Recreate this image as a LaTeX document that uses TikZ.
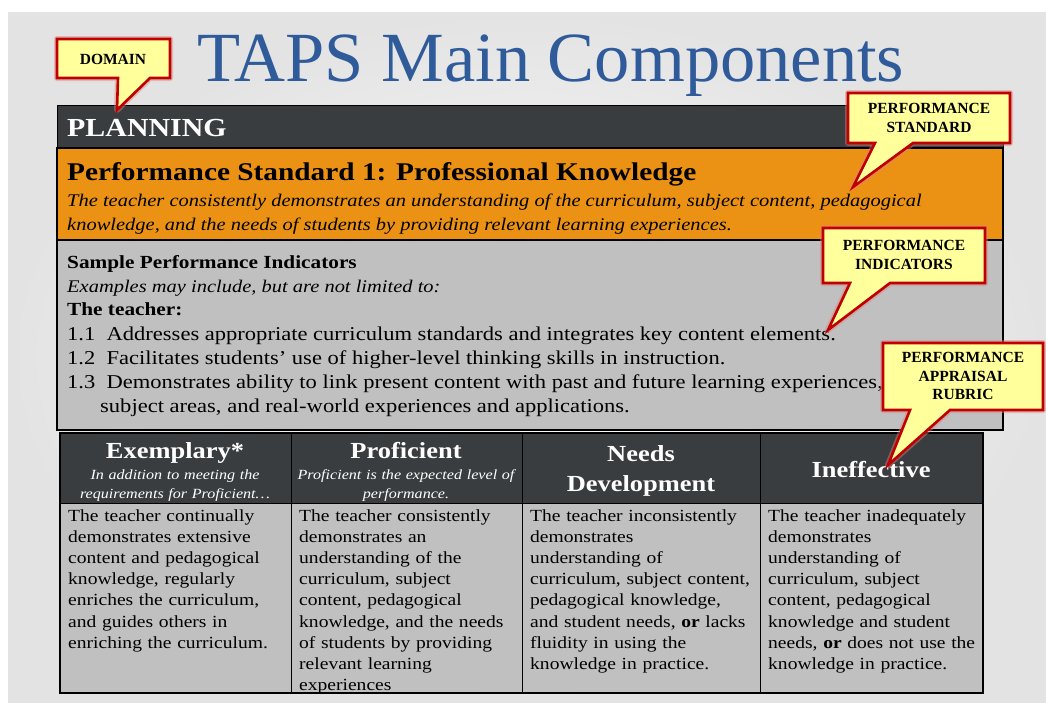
\documentclass[tikz,border=0pt]{standalone}
\usepackage{fontspec}
\setmainfont{Liberation Serif}
\newfontfamily\pal[FakeStretch=1.15]{Liberation Serif}
\definecolor{titleblue}{HTML}{2F5B9B}
\definecolor{darkbar}{HTML}{3A3D40}
\definecolor{orangebox}{HTML}{EB9214}
\definecolor{graybox}{HTML}{C0C0C0}
\definecolor{calloutfill}{HTML}{FFFF9C}
\definecolor{calloutred}{HTML}{C00000}
\hyphenpenalty=10000
\begin{document}
\begin{tikzpicture}[x=1pt,y=-1pt,
  txt/.style={anchor=base west, inner sep=0pt, font=\pal\fontsize{19.6}{24}\selectfont},
  cell/.style={anchor=base west, inner sep=0pt, text width=300pt, align=left, font=\pal\fontsize{17}{21.2}\selectfont},
  headbig/.style={anchor=base, inner sep=0pt, text width=228pt, text=white, font=\pal\bfseries\fontsize{23}{30.5}\selectfont, align=center},
  headsmall/.style={anchor=base, inner sep=0pt, text width=228pt, text=white, font=\pal\itshape\fontsize{14}{19}\selectfont, align=center},
  calloutglow/.style={draw=calloutred!50, line width=6pt, opacity=0.45, line join=round},
  calloutbox/.style={fill=calloutfill, draw=calloutred, line width=2.6pt, line join=miter},
  callouttext/.style={inner sep=0pt, align=center, font=\bfseries\fontsize{15.5}{18.5}\selectfont}
]
\useasboundingbox (0,0) rectangle (1046,702);
\fill[white] (0,0) rectangle (1046,702);
\shade[inner color=white, outer color=black!11] (8,12) rectangle (1046,702);

% title
\node[anchor=base west, inner sep=0pt, text=titleblue, font=\fontsize{70.5}{80}\selectfont] (title) at (197,81) {TAPS Main Components};

% domain bar
\fill[darkbar] (57,105) rectangle (1003,148);
\draw[black, line width=1pt] (57,105) rectangle (1003,148);
\node[txt, text=white, font=\pal\bfseries\fontsize{26}{30}\selectfont] (planning) at (67,136) {PLANNING};

% performance standard
\fill[orangebox] (57,148) rectangle (1003,240);
\draw[black, line width=1.2pt] (57,148) rectangle (1003,240);
\node[txt, font=\pal\bfseries\fontsize{25.5}{30}\selectfont] (ps1) at (67,180) {Performance Standard 1: Professional Knowledge};
\node[txt, font=\pal\itshape\fontsize{17.8}{24}\selectfont] (ps1a) at (67,206) {The teacher consistently demonstrates an understanding of the curriculum, subject content, pedagogical};
\node[txt, font=\pal\itshape\fontsize{17.8}{24}\selectfont] (ps1b) at (67,230) {knowledge, and the needs of students by providing relevant learning experiences.};

% indicators
\fill[graybox] (57,240) rectangle (1003,430);
\draw[black, line width=1.2pt] (57,240) rectangle (1003,430);
\node[txt, font=\pal\bfseries\fontsize{18.5}{24}\selectfont] (spi) at (67,268) {Sample Performance Indicators};
\node[txt, font=\pal\itshape\fontsize{17.8}{24}\selectfont] (ex) at (67,292) {Examples may include, but are not limited to:};
\node[txt, font=\pal\bfseries\fontsize{18.5}{24}\selectfont] (tt) at (67,315) {The teacher:};
\node[txt] (i11) at (67,340) {1.1\ \ Addresses appropriate curriculum standards and integrates key content elements.};
\node[txt] (i12) at (67,364) {1.2\ \ Facilitates students’ use of higher-level thinking skills in instruction.};
\node[txt] (i13) at (67,388) {1.3\ \ Demonstrates ability to link present content with past and future learning experiences,};
\node[txt] (i13b) at (100,412) {subject areas, and real-world experiences and applications.};

% rubric table
\fill[darkbar] (60,433) rectangle (983,503);
\fill[graybox] (60,503) rectangle (983,693);
\draw[black, line width=1pt] (60,503) -- (983,503);
\foreach \cx in {291,522,760} \draw[black, line width=1pt] (\cx,433) -- (\cx,693);
\draw[black, line width=2pt] (60,433) rectangle (983,693);

\node[headbig] (hex) at (175,458) {Exemplary*};
\node[headsmall] (hexa) at (175,479) {In addition to meeting the\\requirements for Proficient…};
\node[headbig] (hpr) at (406,458) {Proficient};
\node[headsmall] (hpra) at (406,479) {Proficient is the expected level of\\performance.};
\node[headbig] (hnd) at (641,461) {Needs\\Development};
\node[headbig] (hin) at (871,477) {Ineffective};

\node[cell] (c1) at (68,521) {The teacher continually\\demonstrates extensive\\content and pedagogical\\knowledge, regularly\\enriches the curriculum,\\and guides others in\\enriching the curriculum.};
\node[cell] (c2) at (299,521) {The teacher consistently\\demonstrates an\\understanding of the\\curriculum, subject\\content, pedagogical\\knowledge, and the needs\\of students by providing\\relevant learning\\experiences};
\node[cell] (c3) at (530,521) {The teacher inconsistently\\demonstrates\\understanding of\\curriculum, subject content,\\pedagogical knowledge,\\and student needs, \textbf{or} lacks\\fluidity in using the\\knowledge in practice.};
\node[cell] (c4) at (768,521) {The teacher inadequately\\demonstrates\\understanding of\\curriculum, subject\\content, pedagogical\\knowledge and student\\needs, \textbf{or} does not use the\\knowledge in practice.};

% callouts
\foreach \st in {calloutglow, calloutbox}{
  \path[\st] (57,39) -- (170,39) -- (170,78) -- (150,78) -- (117,110) -- (118,78) -- (57,78) -- cycle;
  \path[\st] (848,93) -- (1010,93) -- (1010,143) -- (913,143) -- (853,187) -- (875,143) -- (848,143) -- cycle;
  \path[\st] (823,228) -- (985,228) -- (985,283) -- (890,283) -- (828,330) -- (850,283) -- (823,283) -- cycle;
  \path[\st] (883,343) -- (1043,343) -- (1043,410) -- (950,410) -- (888,465) -- (910,410) -- (883,410) -- cycle;
}
\node[callouttext] (cdom) at (113,59) {DOMAIN};
\node[callouttext] (cps) at (929,118) {PERFORMANCE\\STANDARD};
\node[callouttext] (cpi) at (904,255) {PERFORMANCE\\INDICATORS};
\node[callouttext] (cpr) at (963,376) {PERFORMANCE\\APPRAISAL\\RUBRIC};
\end{tikzpicture}
\end{document}
